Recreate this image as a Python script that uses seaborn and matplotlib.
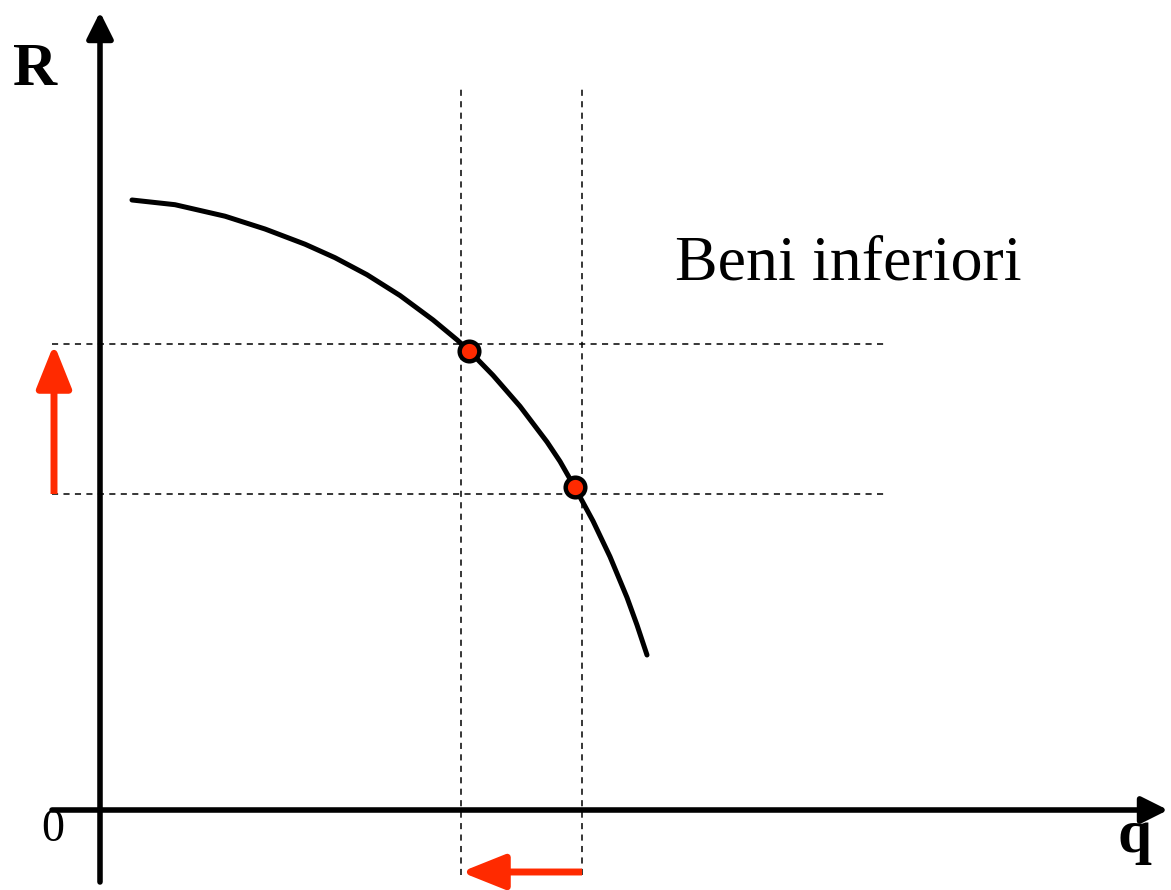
import numpy as np
import pandas as pd
import matplotlib
matplotlib.use("Agg")
import matplotlib.pyplot as plt
import seaborn as sns

# curva R(q) - beni inferiori
q_curve = [32, 75, 125, 165, 205, 235, 267, 300, 333, 357, 369, 393, 420, 447, 460,
           474.5, 493, 510, 527, 537, 547]
R_curve = [610, 605.3, 593.8, 581, 565.8, 552.3, 535.3, 514.5, 490.1, 470.2, 459.4, 434.7,
           403.7, 368.1, 348.6, 323.2, 289, 253.3, 212.5, 185, 155]

# i due punti evidenziati
q_pts = [369, 474.5]
R_pts = [459.4, 323.2]

# livelli delle linee tratteggiate
q_lines = [361, 482]
R_lines = [466, 316]

curve = pd.DataFrame({"q": q_curve, "R": R_curve})
pts = pd.DataFrame({"q": q_pts, "R": R_pts})

sns.set_style("white")
fig = plt.figure(figsize=(11.71, 8.90), dpi=100)
ax = fig.add_axes([0, 0, 1, 1])
ax.set_xlim(-100, 1071)
ax.set_ylim(-80, 810)
ax.axis("off")

red = "#ff2a00"
dash = (0, (4, 3.5))

# linee tratteggiate
for qv in q_lines:
    ax.plot([qv, qv], [-65, 722], color="black", lw=1.1, ls=dash)
for rv in R_lines:
    ax.plot([-48, 785], [rv, rv], color="black", lw=1.1, ls=dash)

# assi con frecce
ax.annotate("", xy=(0, 798), xytext=(0, -72),
            arrowprops=dict(arrowstyle="-|>", color="black", lw=4, mutation_scale=40,
                            shrinkA=0, shrinkB=0))
ax.annotate("", xy=(1068, 0), xytext=(-48, 0),
            arrowprops=dict(arrowstyle="-|>", color="black", lw=4, mutation_scale=40,
                            shrinkA=0, shrinkB=0))

# curva e punti
sns.lineplot(data=curve, x="q", y="R", ax=ax, color="black", lw=3.6, sort=False)
sns.scatterplot(data=pts, x="q", y="R", ax=ax, s=200, color=red,
                edgecolor="black", linewidth=3.2, zorder=5)

# frecce rosse
red_style = "-|>,head_length=0.7,head_width=0.28"
ax.annotate("", xy=(-46, R_lines[0]), xytext=(-46, R_lines[1]),
            arrowprops=dict(arrowstyle=red_style, color=red, lw=5, mutation_scale=38,
                            shrinkA=0, shrinkB=0, joinstyle="round", capstyle="butt"))
ax.annotate("", xy=(q_lines[0], -62), xytext=(q_lines[1], -62),
            arrowprops=dict(arrowstyle=red_style, color=red, lw=5, mutation_scale=38,
                            shrinkA=0, shrinkB=0, joinstyle="round", capstyle="butt"))

# testi
ax.text(-65, 740, "R", family="Liberation Serif", weight="bold", fontsize=44,
        color="black", ha="center", va="center")
ax.text(1035, -27, "q", family="Liberation Serif", weight="bold", fontsize=44,
        color="black", ha="center", va="center")
ax.text(-47, -20, "0", family="Liberation Serif", fontsize=33, color="black",
        ha="center", va="center")
ax.text(575, 545, "Beni inferiori", family="Liberation Serif", fontsize=46,
        color="black", ha="left", va="center")

fig.savefig("out.png", dpi=100)
